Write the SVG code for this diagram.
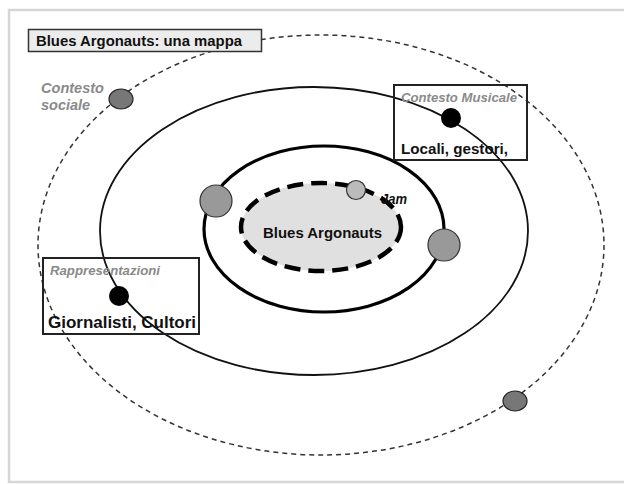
<svg xmlns="http://www.w3.org/2000/svg" width="624" height="484" viewBox="0 0 624 484">
<style>
.b{font-family:"Liberation Sans",Arial,sans-serif;font-weight:bold;fill:#111}
.g{font-family:"Liberation Sans",Arial,sans-serif;font-weight:bold;font-style:italic;fill:#8a8a8a}
.big{fill:#999;stroke:#333;stroke-width:1.2}
.dark{fill:#777;stroke:#222;stroke-width:1.2}
.dot{fill:#000}
.box{fill:none;stroke:#222;stroke-width:2}
</style>
<rect x="0" y="0" width="624" height="484" fill="#fff"/>
<rect x="9" y="10" width="630" height="472" fill="#fff" stroke="#d6d6d6" stroke-width="2.5"/>
<g id="connectors">
<ellipse id="orbit-outer" cx="321" cy="245" rx="283" ry="210" fill="none" stroke="#333" stroke-width="1.5" stroke-dasharray="5 4"/>
<ellipse id="orbit-middle" cx="314" cy="231" rx="214" ry="144" fill="none" stroke="#111" stroke-width="1.8"/>
<ellipse id="orbit-inner" cx="324" cy="229" rx="120" ry="83" fill="none" stroke="#000" stroke-width="3.2"/>
</g>
<g id="core">
<ellipse cx="321" cy="227" rx="80" ry="44" fill="#e0e0e0" stroke="#000" stroke-width="4.5" stroke-dasharray="16 8"/>
<text class="b" x="263" y="238" font-size="15" textLength="119" lengthAdjust="spacingAndGlyphs">Blues Argonauts</text>
</g>
<g id="jam">
<circle cx="356" cy="190" r="9.5" fill="#bbb" stroke="#333" stroke-width="1.2"/>
<text x="381" y="204" font-family="Liberation Sans, Arial, sans-serif" font-weight="bold" font-style="italic" font-size="14" fill="#111" textLength="26" lengthAdjust="spacingAndGlyphs">Jam</text>
</g>
<g id="planet-left"><circle class="big" cx="216" cy="201" r="16"/></g>
<g id="planet-right"><circle class="big" cx="444" cy="245" r="16"/></g>
<g id="title">
<rect x="28.5" y="29.5" width="233" height="22" fill="#ececec" stroke="#333" stroke-width="1.5"/>
<text class="b" x="36" y="46" font-size="14.5" textLength="206" lengthAdjust="spacingAndGlyphs">Blues Argonauts: una mappa</text>
</g>
<g id="contesto-sociale">
<ellipse class="dark" cx="121" cy="99" rx="12" ry="10"/>
<text class="g" x="41" y="93" font-size="14.5" textLength="63" lengthAdjust="spacingAndGlyphs">Contesto</text>
<text class="g" x="41" y="110" font-size="14.5">sociale</text>
</g>
<g id="sociale-2"><ellipse class="dark" cx="515" cy="401" rx="12" ry="10"/></g>
<g id="contesto-musicale">
<rect class="box" x="394" y="85" width="133" height="75"/>
<text class="g" x="401" y="102" font-size="13" textLength="116" lengthAdjust="spacingAndGlyphs">Contesto Musicale</text>
<circle class="dot" cx="451" cy="118" r="10"/>
<text class="b" x="401" y="154" font-size="15" textLength="107" lengthAdjust="spacingAndGlyphs">Locali, gestori,</text>
</g>
<g id="rappresentazioni">
<rect class="box" x="43" y="258" width="156" height="76"/>
<text class="g" x="50" y="275" font-size="13" textLength="110" lengthAdjust="spacingAndGlyphs">Rappresentazioni</text>
<circle class="dot" cx="119" cy="296" r="10"/>
<text class="b" x="48" y="328" font-size="16" textLength="148" lengthAdjust="spacingAndGlyphs">Giornalisti, Cultori</text>
</g>
</svg>
